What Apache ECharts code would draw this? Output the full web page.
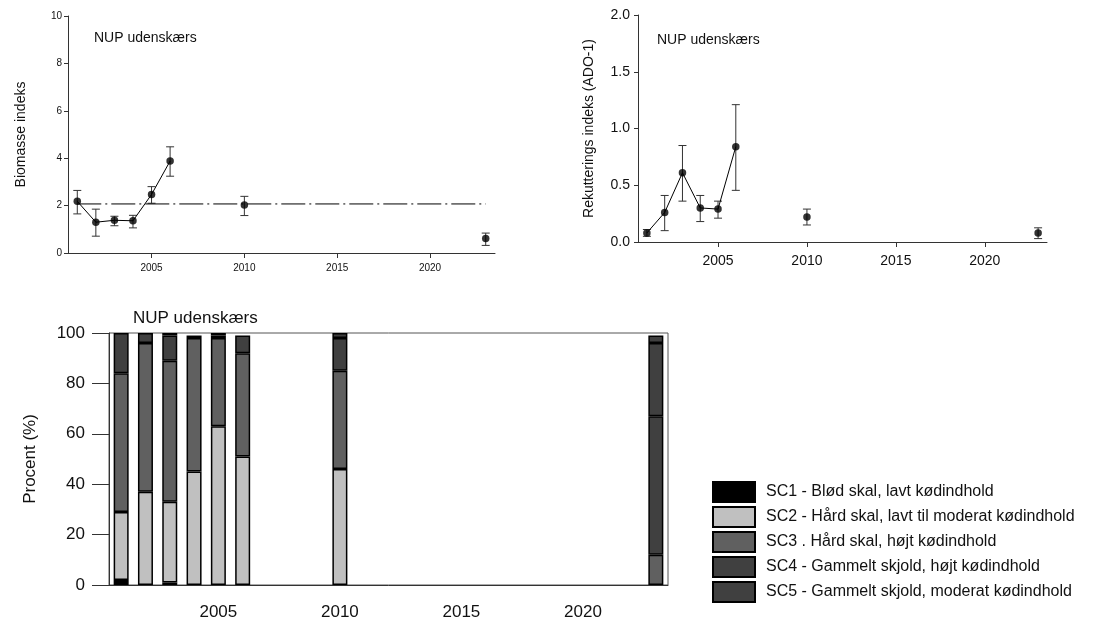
<!DOCTYPE html>
<html>
<head>
<meta charset="utf-8">
<script src="https://cdn.jsdelivr.net/npm/echarts@6/dist/echarts.min.js"></script>
<style>
  html, body { margin: 0; padding: 0; background: #fff; }
  #main { width: 1118px; height: 621px; }
</style>
</head>
<body>
<div id="main"></div>
<script>
// år med prøvetagning
var years = [2001, 2002, 2003, 2004, 2005, 2006, 2010, 2023];
var xTicks = [2005, 2010, 2015, 2020];
// kategorier til søjlediagrammet (hele perioden)
var allYears = [2001, 2002, 2003, 2004, 2005, 2006, 2007, 2008, 2009, 2010, 2011, 2012,
                2013, 2014, 2015, 2016, 2017, 2018, 2019, 2020, 2021, 2022, 2023];

// biomasse indeks + fejlgrænser
var biomass     = [2.18, 1.30, 1.38, 1.36, 2.47, 3.88, 2.03, 0.61];
var biomassLow  = [1.65, 0.71, 1.15, 1.06, 2.10, 3.24, 1.58, 0.32];
var biomassHigh = [2.64, 1.85, 1.55, 1.59, 2.80, 4.48, 2.39, 0.84];
var biomassRef  = 2.07;

// rekrutterings indeks (ADO-1)
var recruit     = [0.08, 0.26, 0.61, 0.30, 0.29, 0.84, 0.22, 0.08];
var recruitLow  = [0.05, 0.10, 0.36, 0.18, 0.21, 0.455, 0.15, 0.03];
var recruitHigh = [0.11, 0.41, 0.85, 0.41, 0.36, 1.21, 0.29, 0.125];

// skalstadier i procent
var scNames = [
    'SC1 - Blød skal, lavt kødindhold',
    'SC2 - Hård skal, lavt til moderat kødindhold',
    'SC3 . Hård skal, højt kødindhold',
    'SC4 - Gammelt skjold, højt kødindhold',
    'SC5 - Gammelt skjold, moderat kødindhold'
];
var sc1 = [2, 0, 1, 0, 0, 0, 0, 0];
var sc2 = [27, 37, 32, 45, 63, 51, 46, 0];
var sc3 = [55, 59, 56, 53, 35, 41, 39, 12];
var sc4 = [16, 4, 10, 1, 1, 7, 13, 55];
var sc5 = [0, 0, 1, 0, 1, 0, 2, 29];
var scRest = [0, 0, 0, 0, 0, 0, 0, 3];
var scColors = ['#000000', '#c0c0c0', '#606060', '#404040', '#404040', '#404040'];

var FONT = 'Arial, "Liberation Sans", sans-serif';

function pairs(ys) {
    return years.map(function (y, i) { return [y, ys[i]]; });
}
// kun sammenhængende år forbindes med linje
function runPairs(ys) {
    var out = [];
    for (var i = 0; i < years.length; i++) {
        var prev = i > 0 && years[i] - years[i - 1] === 1;
        var next = i < years.length - 1 && years[i + 1] - years[i] === 1;
        if (prev || next) out.push([years[i], ys[i]]);
    }
    return out;
}
function errData(lo, hi) {
    return years.map(function (y, i) { return [y, lo[i], hi[i]]; });
}
function errRender(params, api) {
    var x = api.value(0);
    var a = api.coord([x, api.value(1)]);
    var b = api.coord([x, api.value(2)]);
    var hw = 4;
    var st = { stroke: '#333', lineWidth: 1 };
    return {
        type: 'group',
        children: [
            { type: 'line', shape: { x1: a[0], y1: a[1], x2: b[0], y2: b[1] }, style: st },
            { type: 'line', shape: { x1: a[0] - hw, y1: a[1], x2: a[0] + hw, y2: a[1] }, style: st },
            { type: 'line', shape: { x1: b[0] - hw, y1: b[1], x2: b[0] + hw, y2: b[1] }, style: st }
        ]
    };
}
function barData(vals) {
    return allYears.map(function (y) {
        var i = years.indexOf(y);
        return (i < 0 || vals[i] === 0) ? '-' : vals[i];
    });
}
function isTick(idx, val) {
    return xTicks.indexOf(Number(val)) >= 0;
}

function xAxisFor(gi, fs, margin) {
    return {
        type: 'value', gridIndex: gi, min: 2000.5, max: 2023.5,
        splitLine: { show: false },
        axisLine: { lineStyle: { color: '#333', width: 1 } },
        axisTick: { customValues: xTicks, length: 5, lineStyle: { color: '#333' } },
        axisLabel: { customValues: xTicks, fontSize: fs, margin: margin, color: '#111', fontFamily: FONT,
                     formatter: function (v) { return String(v); } }
    };
}

var chart = echarts.init(document.getElementById('main'));

var series = [
    // biomasse
    { type: 'line', xAxisIndex: 0, yAxisIndex: 0, data: runPairs(biomass), symbol: 'none',
      lineStyle: { color: '#000', width: 1 }, silent: true, z: 3 },
    { type: 'line', xAxisIndex: 0, yAxisIndex: 0,
      data: [[years[0], biomassRef], [years[years.length - 1], biomassRef]], symbol: 'none',
      lineStyle: { color: '#000', width: 1, type: [24, 4, 2, 4] }, silent: true, z: 2 },
    { type: 'custom', xAxisIndex: 0, yAxisIndex: 0, data: errData(biomassLow, biomassHigh),
      renderItem: errRender, encode: { x: 0, y: [1, 2] }, silent: true, z: 2 },
    { type: 'scatter', xAxisIndex: 0, yAxisIndex: 0, data: pairs(biomass), symbol: 'circle',
      symbolSize: 7.5, itemStyle: { color: '#000' }, silent: true, z: 4 },
    // rekruttering
    { type: 'line', xAxisIndex: 1, yAxisIndex: 1, data: runPairs(recruit), symbol: 'none',
      lineStyle: { color: '#000', width: 1 }, silent: true, z: 3 },
    { type: 'custom', xAxisIndex: 1, yAxisIndex: 1, data: errData(recruitLow, recruitHigh),
      renderItem: errRender, encode: { x: 0, y: [1, 2] }, silent: true, z: 2 },
    { type: 'scatter', xAxisIndex: 1, yAxisIndex: 1, data: pairs(recruit), symbol: 'circle',
      symbolSize: 7.5, itemStyle: { color: '#000' }, silent: true, z: 4 }
];

var scSeries = [sc1, sc2, sc3, sc4, sc5, scRest];
scSeries.forEach(function (vals, k) {
    series.push({
        name: k < scNames.length ? scNames[k] : 'SC-rest',
        type: 'bar', stack: 'skal', xAxisIndex: 2, yAxisIndex: 2,
        barWidth: 15, data: barData(vals), silent: true,
        itemStyle: { color: scColors[k], borderColor: '#000', borderWidth: 1.5 }
    });
});

var option = {
    animation: false,
    backgroundColor: '#fff',
    textStyle: { fontFamily: FONT },
    title: [
        { text: 'NUP udenskærs', left: 89, top: 26, textStyle: { fontSize: 14, fontWeight: 'normal', color: '#111', fontFamily: FONT } },
        { text: 'NUP udenskærs', left: 652, top: 28, textStyle: { fontSize: 14, fontWeight: 'normal', color: '#111', fontFamily: FONT } },
        { text: 'NUP udenskærs', left: 128, top: 305, textStyle: { fontSize: 17, fontWeight: 'normal', color: '#111', fontFamily: FONT } }
    ],
    legend: {
        data: scNames, orient: 'vertical', left: 707, top: 476,
        itemWidth: 42, itemHeight: 20, itemGap: 3, icon: 'rect',
        selectedMode: false,
        textStyle: { fontSize: 16, color: '#111', fontFamily: FONT, padding: [0, 0, 0, 6] }
    },
    grid: [
        { left: 68, top: 16, width: 427, height: 237 },
        { left: 638, top: 15, width: 409, height: 227 },
        { left: 109, top: 333, width: 559, height: 252, show: true, borderColor: '#555', borderWidth: 1 }
    ],
    xAxis: [
        xAxisFor(0, 10, 10),
        xAxisFor(1, 14, 12),
        {
            type: 'category', gridIndex: 2, data: allYears, boundaryGap: true,
            splitLine: { show: false },
            axisLine: { lineStyle: { color: '#333', width: 1 } },
            axisTick: { interval: isTick, alignWithLabel: true, length: 5, lineStyle: { color: '#333' } },
            axisLabel: { interval: isTick, fontSize: 17, margin: 19, color: '#111', fontFamily: FONT }
        }
    ],
    yAxis: [
        { type: 'value', gridIndex: 0, min: 0, max: 10, interval: 2,
          name: 'Biomasse indeks', nameLocation: 'middle', nameGap: 40, nameRotate: 90,
          nameTextStyle: { fontSize: 14, color: '#111', fontFamily: FONT },
          splitLine: { show: false },
          axisLine: { show: true, lineStyle: { color: '#333' } },
          axisTick: { show: true, length: 4, lineStyle: { color: '#333' } },
          axisLabel: { fontSize: 10, color: '#111', margin: 6, fontFamily: FONT } },
        { type: 'value', gridIndex: 1, min: 0, max: 2, interval: 0.5,
          name: 'Rekutterings indeks (ADO-1)', nameLocation: 'middle', nameGap: 42, nameRotate: 90,
          nameTextStyle: { fontSize: 14, color: '#111', fontFamily: FONT },
          splitLine: { show: false },
          axisLine: { show: true, lineStyle: { color: '#333' } },
          axisTick: { show: true, length: 4, lineStyle: { color: '#333' } },
          axisLabel: { fontSize: 14, color: '#111', margin: 8, fontFamily: FONT,
                       formatter: function (v) { return v.toFixed(1); } } },
        { type: 'value', gridIndex: 2, min: 0, max: 100, interval: 20,
          name: 'Procent (%)', nameLocation: 'middle', nameGap: 70, nameRotate: 90,
          nameTextStyle: { fontSize: 17, color: '#111', fontFamily: FONT },
          splitLine: { show: false },
          axisLine: { show: true, lineStyle: { color: '#333' } },
          axisTick: { show: true, length: 17, lineStyle: { color: '#333' } },
          axisLabel: { fontSize: 17, color: '#111', margin: 24, fontFamily: FONT } }
    ],
    series: series
};

chart.setOption(option);
</script>
</body>
</html>
